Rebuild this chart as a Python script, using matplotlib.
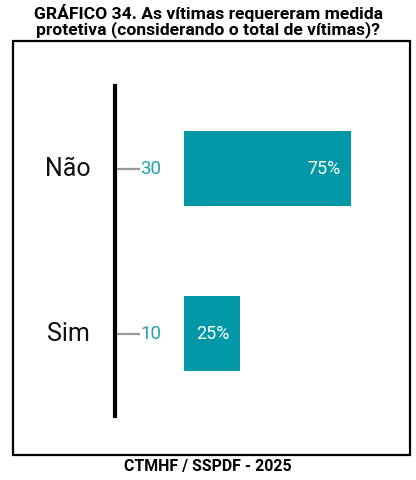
import matplotlib
matplotlib.use("Agg")
import matplotlib.pyplot as plt
from matplotlib.patches import Rectangle

plt.rcParams['font.family'] = ['Roboto', 'DejaVu Sans']

categories = ["Sim", "Não"]
counts = [10, 30]
percents = ["25%", "75%"]

title = "GRÁFICO 34. As vítimas requereram medida\nprotetiva (considerando o total de vítimas)?"
footer = "CTMHF / SSPDF - 2025"

BAR = "#0097A7"
LABEL = "#1FA3B3"

W, H = 416, 481
fig = plt.figure(figsize=(W / 100, H / 100), dpi=100)

# outer frame
fig.patches.append(Rectangle((13 / W, 1 - 456 / H), (410 - 13) / W, (456 - 42) / H,
                             transform=fig.transFigure, fill=False,
                             edgecolor="black", linewidth=1.6))

fig.text(0.5, 1 - 21 / H, title, ha="center", va="center",
         fontsize=12.6, fontweight="bold", linespacing=1.0)
fig.text(0.5, 1 - 467 / H, footer, ha="center", va="center",
         fontsize=11.4, fontweight="bold")

left, right, top, bottom = 115, 400, 87, 417
ax = fig.add_axes([left / W, 1 - bottom / H, (right - left) / W, (bottom - top) / H])

px_per_unit = (351 - 184) / 30
xmin = -(184 - left) / px_per_unit
xmax = (right - 184) / px_per_unit
ax.set_xlim(xmin, xmax)
ax.set_ylim(-0.5, 1.5)

ypos = list(range(len(categories)))
ax.barh(ypos, counts, height=0.46, color=BAR, left=0)

for y, c, p in zip(ypos, counts, percents):
    ax.annotate(p, (c, y), xytext=(-7.2, 0), textcoords="offset points",
                ha="right", va="center", color="white", fontsize=13)
    # tick line with the count label
    ax.plot([xmin, xmin + 25 / px_per_unit], [y, y], color="#999999", lw=1.6,
            solid_capstyle="butt", clip_on=False)
    ax.text(xmin + 25 / px_per_unit, y, str(c), ha="left", va="center",
            color=LABEL, fontsize=13.5)
    ax.text(xmin - 47 / px_per_unit, y, categories[y], ha="center", va="center",
            color="#111111", fontsize=18)

for s in ["top", "right", "bottom"]:
    ax.spines[s].set_visible(False)
ax.spines["left"].set_linewidth(3)
ax.spines["left"].set_color("black")
ax.set_xticks([])
ax.set_yticks([])
ax.patch.set_alpha(0)

fig.savefig("out.png", dpi=100)
